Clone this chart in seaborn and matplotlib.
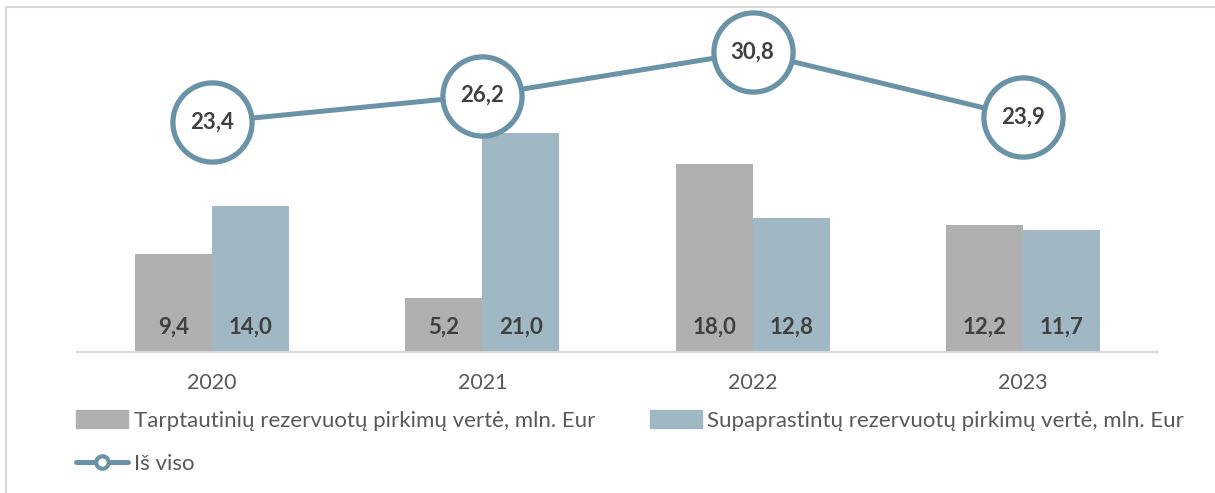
import matplotlib
matplotlib.use('AGG')
import matplotlib.pyplot as plt
from matplotlib.lines import Line2D
from matplotlib.patches import Patch, Rectangle
import seaborn as sns
import numpy as np
from pandas import DataFrame

metai = ['2020', '2021', '2022', '2023']
tarptautiniai = [9.4, 5.2, 18.0, 12.2]
supaprastinti = [14.0, 21.0, 12.8, 11.7]
is_viso = [23.4, 26.2, 30.8, 23.9]
serijos = ['Tarptautinių rezervuotų pirkimų vertė, mln. Eur',
           'Supaprastintų rezervuotų pirkimų vertė, mln. Eur']
bendra = 'Iš viso'

pilka = '#b0b0b0'
melyna = '#9fb8c4'
linija = '#6b93a8'
tekstas = '#404040'

sns.set_theme(style='white')
plt.rcParams['font.family'] = ['Lato', 'DejaVu Sans']

datos = DataFrame({
    'metai': metai * 2,
    'verte': tarptautiniai + supaprastinti,
    'serija': [serijos[0]] * 4 + [serijos[1]] * 4,
})

fig = plt.figure(figsize=(12.15, 4.93), dpi=100)
ax = fig.add_axes([77 / 1215, 1 - 352 / 493, (1158 - 77) / 1215, 342 / 493])
sns.barplot(data=datos, x='metai', y='verte', hue='serija', ax=ax,
            palette=[pilka, melyna], width=0.57, saturation=1,
            legend=False, linewidth=0)
ax.set_xlim(-0.5, 3.5)
ax.set_ylim(0, 342 / 10.43)
ax.set_xlabel('')
ax.set_ylabel('')
ax.set_yticks([])
for k in ['top', 'right', 'left']:
    ax.spines[k].set_visible(False)
ax.spines['bottom'].set_color('#d9d9d9')
ax.spines['bottom'].set_linewidth(1.5)
ax.tick_params(axis='x', length=0, pad=15, labelsize=15.5, labelcolor='#595959')

for cont in ax.containers:
    for barra in cont:
        ax.text(barra.get_x() + barra.get_width() / 2, 1.4,
                f'{barra.get_height():.1f}'.replace('.', ','),
                ha='center', va='bottom', fontsize=16, fontweight='bold',
                color=tekstas)

ax2 = ax.twinx()
sns.lineplot(x=np.arange(len(metai)), y=is_viso, ax=ax2, color=linija,
             linewidth=3.6, marker='o', markersize=57, markerfacecolor='white',
             markeredgecolor=linija, markeredgewidth=3.8)
v0 = 23.4 - 230 / 9.46
ax2.set_ylim(v0, v0 + 342 / 9.46)
ax2.set_yticks([])
ax2.set_ylabel('')
for k in ['top', 'right', 'left', 'bottom']:
    ax2.spines[k].set_visible(False)
for i, v in enumerate(is_viso):
    ax2.text(i, v, f'{v:.1f}'.replace('.', ','), ha='center', va='center',
             fontsize=16, fontweight='bold', color=tekstas)

rankos = [Patch(color=pilka),
          Line2D([0], [0], color=linija, linewidth=3.6, marker='o', markersize=9,
                 markerfacecolor='white', markeredgecolor=linija, markeredgewidth=3),
          Patch(color=melyna)]
fig.legend(rankos, [serijos[0], bendra, serijos[1]], ncol=2, frameon=False,
           loc='upper left', bbox_to_anchor=(56 / 1215, 1 - 390 / 493),
           fontsize=16, labelcolor='#595959', handlelength=2.35, handleheight=0.85,
           handletextpad=0.25, columnspacing=2.45, labelspacing=1.05)

fig.patches.append(Rectangle((6 / 1215, -0.1), 1.2, 1.1 - 7 / 493, transform=fig.transFigure,
                             fill=False, edgecolor='#d9d9d9', linewidth=1.5))

fig.savefig('out.png', dpi=100)
plt.close()
